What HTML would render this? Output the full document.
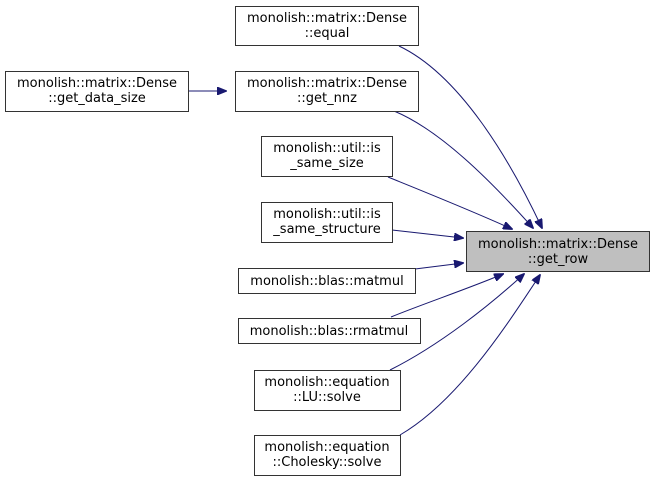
<!DOCTYPE html>
<html><head><style>body{margin:0;background:#fff}svg{display:block}</style></head><body>
<svg width="655" height="481" xmlns="http://www.w3.org/2000/svg" font-family="DejaVu Sans, Liberation Sans, sans-serif" font-size="13">
<defs><marker id="a" markerWidth="10" markerHeight="8" refX="9" refY="4" orient="auto" markerUnits="userSpaceOnUse"><path d="M0,0 L10,4 L0,8 z" fill="#191970" stroke="#191970"/></marker></defs>
<g fill="none" stroke="#191970" stroke-width="1">
<path d="M188,91 L226,91" marker-end="url(#a)"/>
<path d="M399,46 C460,75 510,160 542,228" marker-end="url(#a)"/>
<path d="M394,111 C440,130 490,180 533,228" marker-end="url(#a)"/>
<path d="M388,177 C420,190 470,210 512,229" marker-end="url(#a)"/>
<path d="M392,230 L463,238" marker-end="url(#a)"/>
<path d="M415,269 L463,263" marker-end="url(#a)"/>
<path d="M391,317 C420,305 470,288 503,274" marker-end="url(#a)"/>
<path d="M390,370 C440,345 490,305 524,274" marker-end="url(#a)"/>
<path d="M400,435 C460,400 510,320 540,275" marker-end="url(#a)"/>
</g>
<g stroke="#333" stroke-width="1">
<rect x="466.5" y="231.5" width="183" height="40" fill="#bfbfbf"/>
<rect x="235.5" y="6.5" width="183" height="39" fill="#fff"/>
<rect x="5.5" y="71.5" width="183" height="40" fill="#fff"/>
<rect x="235.5" y="71.5" width="183" height="40" fill="#fff"/>
<rect x="261.5" y="136.5" width="131" height="40" fill="#fff"/>
<rect x="261.5" y="202.5" width="131" height="40" fill="#fff"/>
<rect x="238.5" y="268.5" width="177" height="25" fill="#fff"/>
<rect x="238.5" y="318.5" width="182" height="25" fill="#fff"/>
<rect x="254.5" y="370.5" width="146" height="40" fill="#fff"/>
<rect x="254.5" y="435.5" width="146" height="40" fill="#fff"/>
</g>
<g fill="#000" text-anchor="middle">
<text x="558" y="248">monolish::matrix::Dense</text><text x="558" y="263">::get_row</text>
<text x="327" y="22">monolish::matrix::Dense</text><text x="327" y="37">::equal</text>
<text x="97" y="87">monolish::matrix::Dense</text><text x="97" y="102">::get_data_size</text>
<text x="327" y="87">monolish::matrix::Dense</text><text x="327" y="102">::get_nnz</text>
<text x="327" y="152">monolish::util::is</text><text x="327" y="167">_same_size</text>
<text x="327" y="218">monolish::util::is</text><text x="327" y="233">_same_structure</text>
<text x="327" y="285">monolish::blas::matmul</text>
<text x="329" y="335">monolish::blas::rmatmul</text>
<text x="327" y="386">monolish::equation</text><text x="327" y="401">::LU::solve</text>
<text x="327" y="451">monolish::equation</text><text x="327" y="466">::Cholesky::solve</text>
</g>
</svg>
</body></html>
